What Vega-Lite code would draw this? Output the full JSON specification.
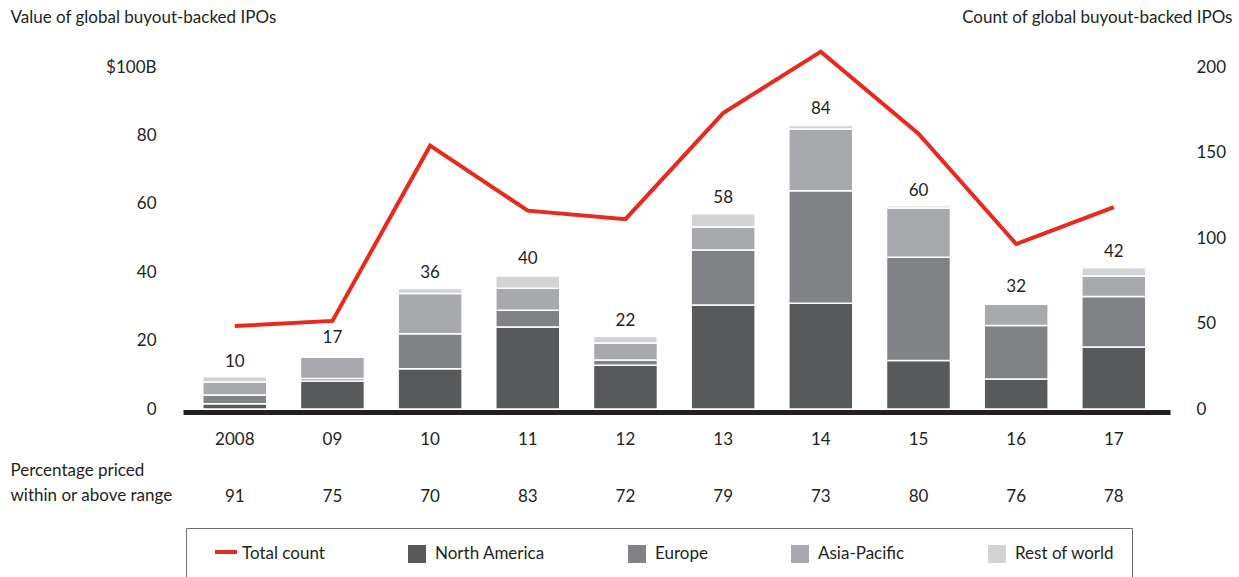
{
  "$schema": "https://vega.github.io/schema/vega-lite/v6.json",
  "width": 987,
  "height": 342,
  "autosize": "none",
  "padding": {"left": 183, "top": 67, "right": 69, "bottom": 168},
  "background": "white",
  "config": {
    "font": "Lato",
    "view": {"stroke": null},
    "text": {"font": "Lato"}
  },
  "datasets": {
    "segments": [
      {"year": "2008", "region": "North America", "value": 1.5},
      {"year": "2008", "region": "Europe", "value": 2.6},
      {"year": "2008", "region": "Asia-Pacific", "value": 3.8},
      {"year": "2008", "region": "Rest of world", "value": 1.5},
      {"year": "09", "region": "North America", "value": 8.2},
      {"year": "09", "region": "Europe", "value": 0.7},
      {"year": "09", "region": "Asia-Pacific", "value": 6.3},
      {"year": "09", "region": "Rest of world", "value": 0.4},
      {"year": "10", "region": "North America", "value": 11.8},
      {"year": "10", "region": "Europe", "value": 10.2},
      {"year": "10", "region": "Asia-Pacific", "value": 11.8},
      {"year": "10", "region": "Rest of world", "value": 1.4},
      {"year": "11", "region": "North America", "value": 24.0},
      {"year": "11", "region": "Europe", "value": 4.9},
      {"year": "11", "region": "Asia-Pacific", "value": 6.4},
      {"year": "11", "region": "Rest of world", "value": 3.6},
      {"year": "12", "region": "North America", "value": 12.8},
      {"year": "12", "region": "Europe", "value": 1.5},
      {"year": "12", "region": "Asia-Pacific", "value": 5.0},
      {"year": "12", "region": "Rest of world", "value": 2.0},
      {"year": "13", "region": "North America", "value": 30.4},
      {"year": "13", "region": "Europe", "value": 16.1},
      {"year": "13", "region": "Asia-Pacific", "value": 6.7},
      {"year": "13", "region": "Rest of world", "value": 3.9},
      {"year": "14", "region": "North America", "value": 30.9},
      {"year": "14", "region": "Europe", "value": 32.9},
      {"year": "14", "region": "Asia-Pacific", "value": 18.1},
      {"year": "14", "region": "Rest of world", "value": 1.0},
      {"year": "15", "region": "North America", "value": 14.2},
      {"year": "15", "region": "Europe", "value": 30.2},
      {"year": "15", "region": "Asia-Pacific", "value": 14.4},
      {"year": "15", "region": "Rest of world", "value": 0.6},
      {"year": "16", "region": "North America", "value": 8.8},
      {"year": "16", "region": "Europe", "value": 15.6},
      {"year": "16", "region": "Asia-Pacific", "value": 6.2},
      {"year": "16", "region": "Rest of world", "value": 0.3},
      {"year": "17", "region": "North America", "value": 18.1},
      {"year": "17", "region": "Europe", "value": 14.8},
      {"year": "17", "region": "Asia-Pacific", "value": 6.0},
      {"year": "17", "region": "Rest of world", "value": 2.4}
    ],
    "totals": [
      {"year": "2008", "label": 10, "count": 48.5, "pct": 91},
      {"year": "09", "label": 17, "count": 51.5, "pct": 75},
      {"year": "10", "label": 36, "count": 154, "pct": 70},
      {"year": "11", "label": 40, "count": 116, "pct": 83},
      {"year": "12", "label": 22, "count": 111, "pct": 72},
      {"year": "13", "label": 58, "count": 173, "pct": 79},
      {"year": "14", "label": 84, "count": 209, "pct": 73},
      {"year": "15", "label": 60, "count": 161, "pct": 80},
      {"year": "16", "label": 32, "count": 96.5, "pct": 76},
      {"year": "17", "label": 42, "count": 118, "pct": 78}
    ]
  },
  "encoding": {
    "x": {
      "field": "year", "type": "nominal",
      "scale": {"domain": ["2008", "09", "10", "11", "12", "13", "14", "15", "16", "17"], "paddingInner": 0.345, "paddingOuter": 0.225, "align": 0.45},
      "axis": {
        "labelAngle": 0, "ticks": false, "domain": true, "domainColor": "#231f20", "domainWidth": 5, "offset": 3,
        "labelFont": "Lato", "labelFontSize": 17, "labelColor": "#231f20", "labelPadding": 19,
        "title": ["Percentage priced", "within or above range"],
        "titleFont": "Lato", "titleFontSize": 17, "titleFontWeight": "normal", "titleColor": "#231f20",
        "titleX": -173, "titleY": 58.5, "titleAlign": "left", "titleBaseline": "middle", "titleLineHeight": 25, "titleAnchor": "start"
      }
    }
  },
  "layer": [
    {
      "data": {"name": "segments"},
      "transform": [
        {"calculate": "indexof(['North America','Europe','Asia-Pacific','Rest of world'], datum.region)", "as": "ord"}
      ],
      "mark": {"type": "bar", "stroke": "white", "strokeWidth": 1.5},
      "encoding": {
        "y": {
          "field": "value", "type": "quantitative", "stack": "zero",
          "scale": {"domain": [0, 100], "nice": false},
          "axis": {
            "orient": "left",
            "values": [0, 20, 40, 60, 80, 100], "ticks": false, "domain": false, "grid": false,
            "labelExpr": "datum.value == 100 ? '$100B' : datum.label",
            "labelFont": "Lato", "labelFontSize": 17, "labelColor": "#231f20", "labelPadding": 27,
            "title": "Value of global buyout-backed IPOs", "titleAngle": 0, "titleAlign": "left", "titleBaseline": "middle",
            "titleX": -173, "titleY": -50, "titleFont": "Lato", "titleFontSize": 17, "titleFontWeight": "normal", "titleColor": "#231f20"
          }
        },
        "fill": {
          "field": "region", "type": "nominal",
          "scale": {"domain": ["Total count", "North America", "Europe", "Asia-Pacific", "Rest of world"], "range": ["transparent", "#58595b", "#818285", "#a7a9ac", "#d1d3d4"]},
          "legend": {
            "orient": "none", "legendX": 3, "legendY": 461, "direction": "horizontal", "columns": 5, "title": null,
            "padding": 17, "strokeColor": "#6d6e71",
            "labelFont": "Lato", "labelFontSize": 17, "labelColor": "#231f20", "labelOffset": 9, "labelLimit": 300,
            "columnPadding": 71, "symbolOffset": 12, "symbolType": "square", "symbolSize": 324, "symbolStrokeWidth": 0, "symbolOpacity": 1
          }
        },
        "order": {"field": "ord", "type": "quantitative"}
      }
    },
    {
      "data": {"name": "totals"},
      "mark": {"type": "text", "baseline": "middle", "align": "center", "dy": -13, "fontSize": 17, "color": "#231f20", "font": "Lato"},
      "encoding": {
        "y": {"field": "label", "type": "quantitative", "scale": {"domain": [0, 100], "nice": false}, "axis": null},
        "text": {"field": "label", "type": "quantitative"}
      }
    },
    {
      "data": {"name": "totals"},
      "mark": {"type": "text", "baseline": "middle", "align": "center", "fontSize": 17, "color": "#231f20", "font": "Lato"},
      "encoding": {
        "y": {"datum": -25.7, "type": "quantitative", "scale": {"domain": [0, 100], "nice": false}, "axis": null},
        "text": {"field": "pct", "type": "quantitative"}
      }
    },
    {
      "data": {"name": "totals"},
      "mark": {"type": "line", "strokeWidth": 4, "strokeJoin": "miter"},
      "encoding": {
        "y": {
          "field": "count", "type": "quantitative",
          "scale": {"domain": [0, 200], "nice": false},
          "axis": {
            "orient": "right", "values": [0, 50, 100, 150, 200], "ticks": false, "domain": false, "grid": false,
            "labelFont": "Lato", "labelFontSize": 17, "labelColor": "#231f20", "labelPadding": 26,
            "title": "Count of global buyout-backed IPOs", "titleAngle": 0, "titleAlign": "right", "titleBaseline": "middle",
            "titleX": 62, "titleY": -50, "titleFont": "Lato", "titleFontSize": 17, "titleFontWeight": "normal", "titleColor": "#231f20"
          }
        },
        "stroke": {
          "datum": "Total count", "type": "nominal",
          "scale": {"domain": ["Total count"], "range": ["#e8291c"]},
          "legend": {
            "orient": "none", "legendX": 30, "legendY": 472, "title": null, "padding": 0,
            "symbolType": "stroke", "symbolSize": 484, "symbolStrokeWidth": 4,
            "labelExpr": "''", "labelFont": "Lato", "labelFontSize": 17, "labelOffset": 0
          }
        }
      }
    }
  ],
  "resolve": {"scale": {"y": "independent"}}
}
